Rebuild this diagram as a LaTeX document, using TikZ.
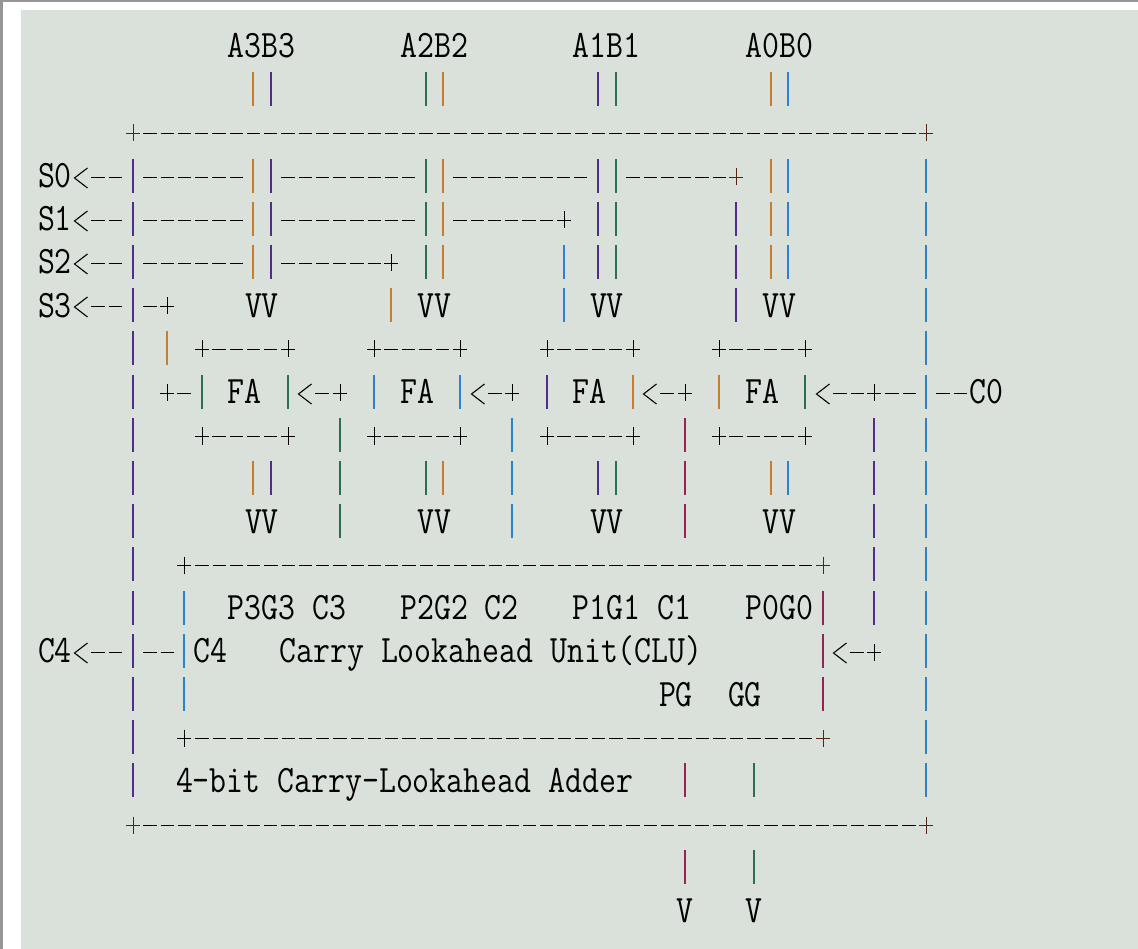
\documentclass[tikz,border=0pt]{standalone}
\usepackage{graphicx}
\definecolor{bgc}{RGB}{218,225,219}
\definecolor{edgegray}{RGB}{150,150,150}
\definecolor{cO}{RGB}{200,125,45}
\definecolor{cP}{RGB}{80,45,140}
\definecolor{cB}{RGB}{45,130,205}
\definecolor{cG}{RGB}{45,110,80}
\definecolor{cR}{RGB}{150,35,85}
\definecolor{cK}{RGB}{85,35,20}
\newcommand\colX[1]{round(46.45+17.25*(#1))}
\newcommand\rowY[1]{round(46+43.2*(#1))}
\tikzset{
  vbar/.style={line width=1.8pt},
  dshline/.style={line width=1.6pt, dash pattern=on 13.3pt off 3.95pt},
  crsline/.style={line width=1.6pt},
  chvline/.style={line width=1.1pt},
  txt/.style={anchor=base west, inner sep=0pt, text=black, font=\fontsize{32.86}{36}\selectfont\ttfamily},
}
\newcommand\Vb[3]{\draw[vbar,color=#3] ({\colX{#1}},{\rowY{#2}-17}) -- ({\colX{#1}},{\rowY{#2}+17});}
\newcommand\Hd[3]{\draw[dshline] ({\colX{#1}-6.65},{\rowY{#3}+1.5}) -- ({\colX{#2}+6.65},{\rowY{#3}+1.5});}
\newcommand\Cr[3]{\draw[crsline,color=#3] ({\colX{#1}-6.8},{\rowY{#2}+1.5}) -- ({\colX{#1}+6.8},{\rowY{#2}+1.5}) ({\colX{#1}+0.5},{\rowY{#2}-7.5}) -- ({\colX{#1}+0.5},{\rowY{#2}+9.5});}
\newcommand\Ch[2]{\draw[chvline] ({\colX{#1}+6.5},{\rowY{#2}-8}) -- ({\colX{#1}-6.5},{\rowY{#2}+2}) -- ({\colX{#1}+6.5},{\rowY{#2}+12});}
\newcommand\Tx[4]{\node[txt] (#1) at ({46.45+17.25*(#2)-8.625},{46+43.2*(#3)+12}) {\scalebox{1}[1.18]{#4}};}
\begin{document}
\begin{tikzpicture}[x=1pt,y=-1pt]
\useasboundingbox (0,0) rectangle (1138,949);
\fill[white] (0,0) rectangle (1138,949);
\fill[bgc] (21,10) rectangle (1138,949);
\fill[edgegray] (0,0) rectangle (1138,2);
\fill[edgegray] (0,0) rectangle (2.5,949);

% ---------- texts ----------
\Tx{tA3}{11}{0}{A3B3}
\Tx{tA2}{21}{0}{A2B2}
\Tx{tA1}{31}{0}{A1B1}
\Tx{tA0}{41}{0}{A0B0}
\Tx{tS0}{0}{3}{S0}
\Tx{tS1}{0}{4}{S1}
\Tx{tS2}{0}{5}{S2}
\Tx{tS3}{0}{6}{S3}
\Tx{tVa3}{12}{6}{VV}
\Tx{tVa2}{22}{6}{VV}
\Tx{tVa1}{32}{6}{VV}
\Tx{tVa0}{42}{6}{VV}
\Tx{tFA3}{11}{8}{FA}
\Tx{tFA2}{21}{8}{FA}
\Tx{tFA1}{31}{8}{FA}
\Tx{tFA0}{41}{8}{FA}
\Tx{tC0}{54}{8}{C0}
\Tx{tVb3}{12}{11}{VV}
\Tx{tVb2}{22}{11}{VV}
\Tx{tVb1}{32}{11}{VV}
\Tx{tVb0}{42}{11}{VV}
\Tx{tP3}{11}{13}{P3G3 C3}
\Tx{tP2}{21}{13}{P2G2 C2}
\Tx{tP1}{31}{13}{P1G1 C1}
\Tx{tP0}{41}{13}{P0G0}
\Tx{tC4out}{0}{14}{C4}
\Tx{tC4in}{9}{14}{C4}
\Tx{tCLU}{14}{14}{Carry Lookahead Unit(CLU)}
\Tx{tPG}{36}{15}{PG}
\Tx{tGG}{40}{15}{GG}
\Tx{tTitle}{8}{17}{4-bit Carry-Lookahead Adder}
\Tx{tVPG}{37}{20}{V}
\Tx{tVGG}{41}{20}{V}

% ---------- vertical bars ----------
\foreach \c/\k in {12/cO,13/cP,22/cG,23/cO,32/cP,33/cG,42/cO,43/cB}{\Vb{\c}{1}{\k}}
\foreach \c/\k in {5/cP,12/cO,13/cP,22/cG,23/cO,32/cP,33/cG,42/cO,43/cB,51/cB}{\Vb{\c}{3}{\k}}
\foreach \c/\k in {5/cP,12/cO,13/cP,22/cG,23/cO,32/cP,33/cG,40/cP,42/cO,43/cB,51/cB}{\Vb{\c}{4}{\k}}
\foreach \c/\k in {5/cP,12/cO,13/cP,22/cG,23/cO,30/cB,32/cP,33/cG,40/cP,42/cO,43/cB,51/cB}{\Vb{\c}{5}{\k}}
\foreach \c/\k in {5/cP,20/cO,30/cB,40/cP,51/cB}{\Vb{\c}{6}{\k}}
\foreach \c/\k in {5/cP,7/cO,51/cB}{\Vb{\c}{7}{\k}}
\foreach \c/\k in {5/cP,9/cG,14/cG,19/cB,24/cB,29/cP,34/cO,39/cO,44/cG,51/cB}{\Vb{\c}{8}{\k}}
\foreach \c/\k in {5/cP,17/cG,27/cB,37/cR,48/cP,51/cB}{\Vb{\c}{9}{\k}}
\foreach \c/\k in {5/cP,12/cO,13/cP,17/cG,22/cG,23/cO,27/cB,32/cP,33/cG,37/cR,42/cO,43/cB,48/cP,51/cB}{\Vb{\c}{10}{\k}}
\foreach \c/\k in {5/cP,17/cG,27/cB,37/cR,48/cP,51/cB}{\Vb{\c}{11}{\k}}
\foreach \c/\k in {5/cP,48/cP,51/cB}{\Vb{\c}{12}{\k}}
\foreach \c/\k in {5/cP,8/cB,45/cR,48/cP,51/cB}{\Vb{\c}{13}{\k}}
\foreach \c/\k in {5/cP,8/cB,45/cR,51/cB}{\Vb{\c}{14}{\k}}
\foreach \c/\k in {5/cP,8/cB,45/cR,51/cB}{\Vb{\c}{15}{\k}}
\foreach \c/\k in {5/cP,51/cB}{\Vb{\c}{16}{\k}}
\foreach \c/\k in {5/cP,37/cR,41/cG,51/cB}{\Vb{\c}{17}{\k}}
\foreach \c/\k in {37/cR,41/cG}{\Vb{\c}{19}{\k}}

% ---------- dashes ----------
\foreach \a/\b/\r in {6/50/2,
  3/4/3, 6/11/3, 14/21/3, 24/31/3, 34/39/3,
  3/4/4, 6/11/4, 14/21/4, 24/29/4,
  3/4/5, 6/11/5, 14/19/5,
  3/4/6, 6/6/6,
  10/13/7, 20/23/7, 30/33/7, 40/43/7,
  8/8/8, 16/16/8, 26/26/8, 36/36/8, 46/47/8, 49/50/8, 52/53/8,
  10/13/9, 20/23/9, 30/33/9, 40/43/9,
  9/44/12,
  3/4/14, 6/7/14, 47/47/14,
  9/44/16,
  6/50/18}{\Hd{\a}{\b}{\r}}

% ---------- plus signs ----------
\foreach \c/\r/\k in {5/2/cK, 51/2/cK, 40/3/cK, 30/4/black, 20/5/black, 7/6/black,
  9/7/black, 14/7/black, 19/7/black, 24/7/black, 29/7/black, 34/7/black, 39/7/black, 44/7/black,
  7/8/black, 17/8/black, 27/8/black, 37/8/black, 48/8/black,
  9/9/black, 14/9/black, 19/9/black, 24/9/black, 29/9/black, 34/9/black, 39/9/black, 44/9/black,
  8/12/black, 45/12/cK, 48/14/black, 8/16/black, 45/16/cK, 5/18/cK, 51/18/cK}{\Cr{\c}{\r}{\k}}

% ---------- arrow heads ----------
\foreach \c/\r in {2/3, 2/4, 2/5, 2/6, 15/8, 25/8, 35/8, 45/8, 2/14, 46/14}{\Ch{\c}{\r}}
\end{tikzpicture}
\end{document}
